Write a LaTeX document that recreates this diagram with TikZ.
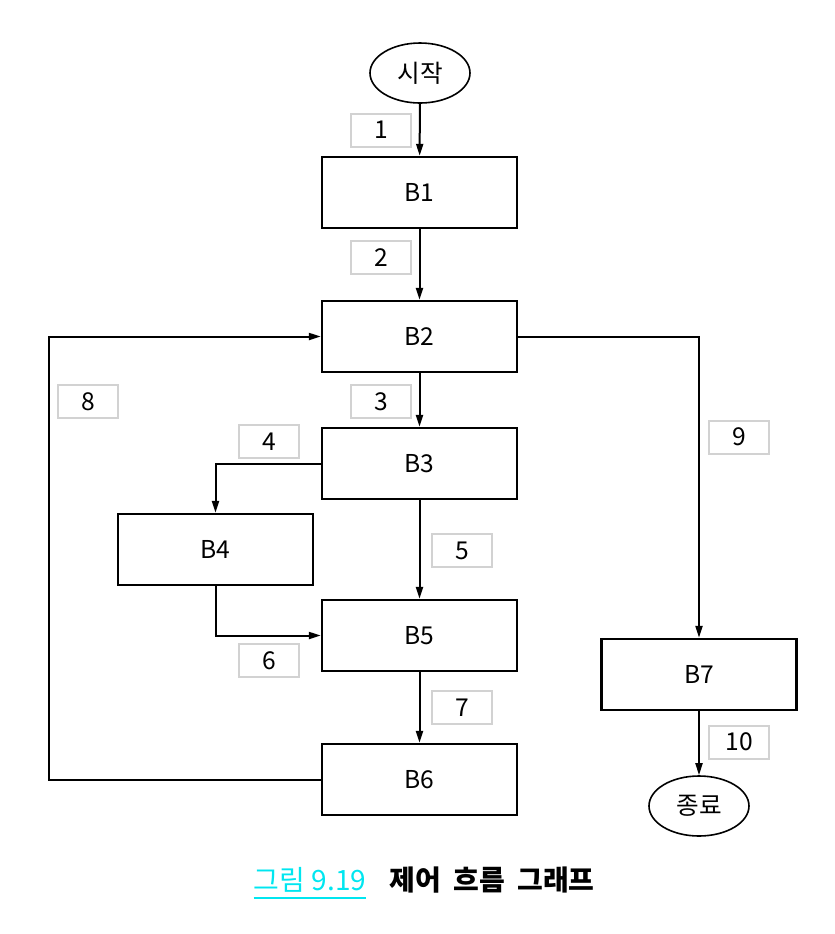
\documentclass[tikz,border=0pt]{standalone}
\usepackage{fontspec}
\setmainfont{Noto Sans CJK KR}
\usetikzlibrary{arrows.meta,shapes.geometric}
\definecolor{lblgray}{RGB}{210,210,210}
\definecolor{capcyan}{RGB}{0,230,240}
\begin{document}
\begin{tikzpicture}[x=0.5pt,y=-0.5pt,
  every node/.style={font=\fontsize{12.3pt}{14pt}\selectfont},
  blk/.style={draw,line width=1.2pt,minimum width=97.5pt,minimum height=35.5pt,inner sep=0pt},
  lbl/.style={draw=lblgray,line width=1pt,minimum width=30pt,minimum height=16.5pt,inner sep=0pt},
  term/.style={draw,ellipse,line width=0.8pt,minimum width=50pt,minimum height=30pt,inner sep=0pt},
  arr/.style={line width=1pt,-{Triangle[length=6pt,width=3.5pt]}}]
\useasboundingbox (0,0) rectangle (835,934);
\node[term] (start) at (420,73) {시작};
\node[blk] (b1) at (419.5,192.5) {B1};
\node[blk] (b2) at (419.5,336.5) {B2};
\node[blk] (b3) at (419.5,463.5) {B3};
\node[blk] (b4) at (215.5,549.5) {B4};
\node[blk] (b5) at (419.5,635.5) {B5};
\node[blk] (b6) at (419.5,779.5) {B6};
\node[blk] (b7) at (699,674.5) {B7};
\node[term] (end) at (699,806) {종료};
\node[lbl] (l1) at (381,130) {1};
\node[lbl] (l2) at (381,257.5) {2};
\node[lbl] (l3) at (381,401.5) {3};
\node[lbl] (l4) at (269,441.5) {4};
\node[lbl] (l5) at (462,550.5) {5};
\node[lbl] (l6) at (269,660.5) {6};
\node[lbl] (l7) at (462,707.5) {7};
\node[lbl] (l8) at (88,401.5) {8};
\node[lbl] (l9) at (739,437) {9};
\node[lbl] (l10) at (739,742) {10};
\coordinate (lx) at (49,0);
\draw[arr] (start) -- (b1);
\draw[arr] (b1) -- (b2);
\draw[arr] (b2) -- (b3);
\draw[arr] (b3.west) -| (b4.north);
\draw[arr] (b3) -- (b5);
\draw[arr] (b4.south) |- (b5.west);
\draw[arr] (b5) -- (b6);
\draw[arr] (b6.west) -- (b6.west -| lx) |- (b2.west);
\draw[arr] (b2.east) -| (b7.north);
\draw[arr] (b7) -- (end);
\node[text=capcyan,inner sep=0pt,font=\fontsize{14pt}{16pt}\selectfont] (capnum) at (310,880) {그림 9.19};
\draw[capcyan,line width=0.8pt] ([yshift=-2.5pt]capnum.south west) -- ([yshift=-2.5pt]capnum.south east);
\node[inner sep=0pt,font=\fontsize{14pt}{16pt}\selectfont\bfseries] (captxt) at (492,880) {제어\hspace{0.45em}흐름\hspace{0.45em}그래프};
\end{tikzpicture}
\end{document}
